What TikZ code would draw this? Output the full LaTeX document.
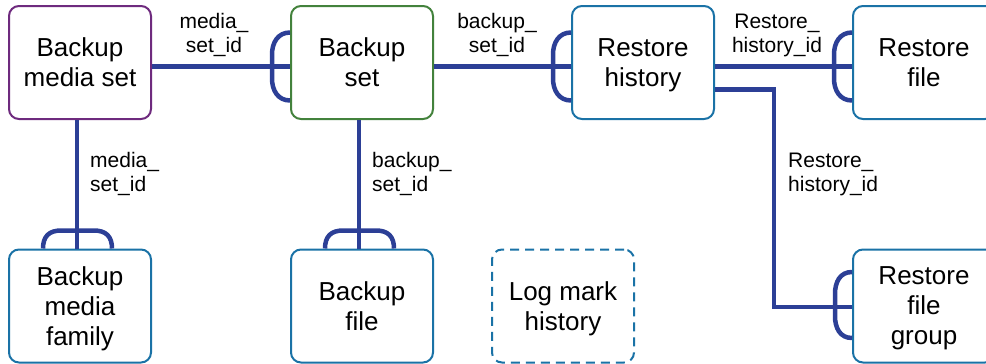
\documentclass[tikz,border=0pt]{standalone}
\usepackage{fontspec}
\setmainfont{Liberation Sans}
\usepackage{tikz}
\usetikzlibrary{positioning, calc}
\definecolor{erlink}{HTML}{2C3F96}
\definecolor{erpurple}{HTML}{6E2A7E}
\definecolor{ergreen}{HTML}{43823C}
\definecolor{erblue}{HTML}{1A72A6}

\begin{document}
\begin{tikzpicture}[
    x=1pt, y=-1pt,
    entity/.style={rectangle, rounded corners=10pt, draw=#1, line width=2pt, fill=white, minimum width=142pt, minimum height=113pt, font=\fontsize{26}{30}\selectfont, align=center, inner sep=0pt, text depth=0pt},
    link/.style={line width=4.5pt, color=erlink},
    foot/.style={line width=4.5pt, color=erlink},
    key/.style={font=\fontsize{21}{24}\selectfont, inner sep=0pt}
]
\clip (0,0) rectangle (986,364);

% Tables
\node[entity=erpurple] (bms) at (80,62.5) {Backup\\media set};
\node[entity=ergreen] (bset) at (362,62.5) {Backup\\set};
\node[entity=erblue] (rhist) at (643,62.5) {Restore\\history};
\node[entity=erblue] (rfile) at (924,62.5) {Restore\\file};
\node[entity=erblue] (bmf) at (80,306) {Backup\\media\\family};
\node[entity=erblue] (bfile) at (362,306) {Backup\\file};
\node[entity=erblue, dash pattern=on 9pt off 6pt] (logm) at (563,306) {Log mark\\history};
\node[entity=erblue] (rfgroup) at (924,306) {Restore\\file\\group};

% Relations
\draw[link] ([yshift=-4pt]bms.east) -- ([yshift=-4pt]bset.west);
\draw[link] ([yshift=-4pt]bset.east) -- ([yshift=-4pt]rhist.west);
\draw[link] ([yshift=-4pt]rhist.east) -- ([yshift=-4pt]rfile.west);
\draw[link] ([yshift=-27pt]rhist.east) -- ++(59,0) |- ([yshift=-1pt]rfgroup.west);
\draw[link] ([xshift=-3pt]bms.south) -- ([xshift=-3pt]bmf.north);
\draw[link] ([xshift=-3pt]bset.south) -- ([xshift=-3pt]bfile.north);

% Many ends
\draw[foot] ([yshift=30pt]bset.west) .. controls +(-12,0) and +(0,-12) .. ++(-18,22)
    -- ++(0,24) .. controls +(0,12) and +(-12,0) .. ++(18,22);
\draw[foot] ([yshift=30pt]rhist.west) .. controls +(-12,0) and +(0,-12) .. ++(-18,22)
    -- ++(0,24) .. controls +(0,12) and +(-12,0) .. ++(18,22);
\draw[foot] ([yshift=30pt]rfile.west) .. controls +(-12,0) and +(0,-12) .. ++(-18,22)
    -- ++(0,24) .. controls +(0,12) and +(-12,0) .. ++(18,22);
\draw[foot] ([yshift=34pt]rfgroup.west) .. controls +(-12,0) and +(0,-12) .. ++(-17,22)
    -- ++(0,22) .. controls +(0,12) and +(-12,0) .. ++(17,22);
\draw[foot] ([xshift=-37pt]bmf.north) .. controls +(0,-12) and +(-12,0) .. ++(18,-18)
    -- ++(33,0) .. controls +(12,0) and +(0,-12) .. ++(18,18);
\draw[foot] ([xshift=-37pt]bfile.north) .. controls +(0,-12) and +(-12,0) .. ++(18,-18)
    -- ++(33,0) .. controls +(12,0) and +(0,-12) .. ++(18,18);

% Keys
\node[key, align=center] (k1) at (214,35) {media\_\\set\_id};
\node[key, align=center] (k2) at (497,35) {backup\_\\set\_id};
\node[key, align=center] (k3) at (777,35) {Restore\_\\history\_id};
\node[key, anchor=west, align=left] (k4) at (90,174) {media\_\\set\_id};
\node[key, anchor=west, align=left] (k5) at (372,174) {backup\_\\set\_id};
\node[key, anchor=west, align=left] (k6) at (788,174) {Restore\_\\history\_id};

\end{tikzpicture}
\end{document}
